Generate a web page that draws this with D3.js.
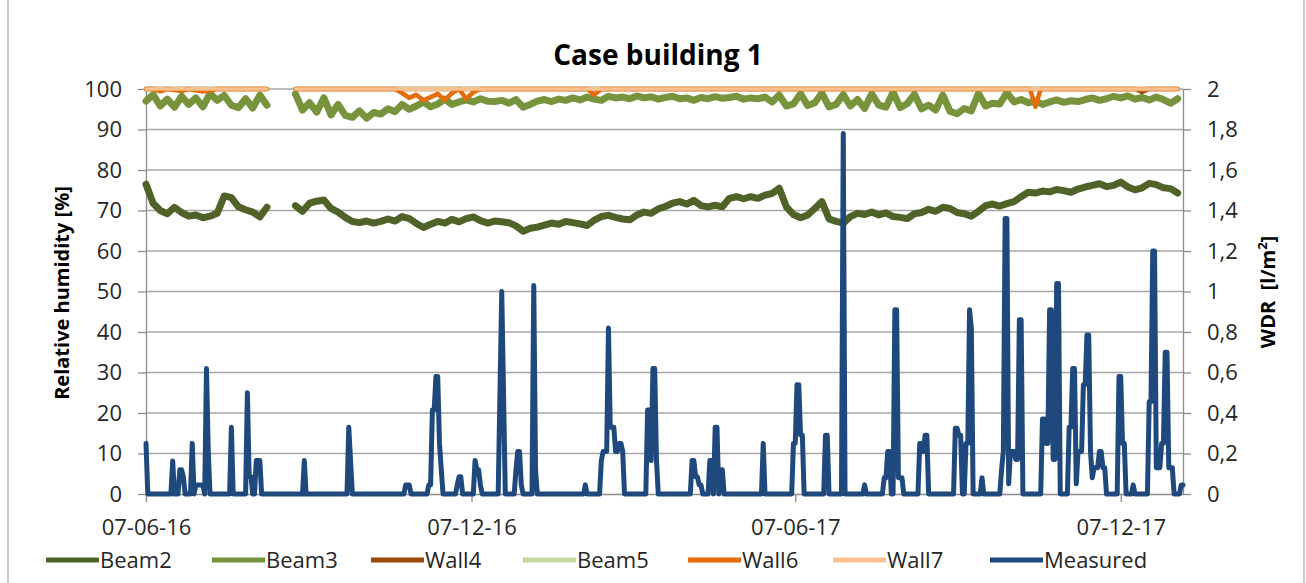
<!DOCTYPE html>
<html>
<head>
    <meta charset="utf-8">
    <title>Case building 1</title>
    <script src="https://cdn.jsdelivr.net/npm/d3@7"></script>
    <style>
        body { margin: 0; background: #fff; }
        text { font-family: "Open Sans", sans-serif; }
    </style>
</head>
<body>
<script type="text/javascript">
    // day 0 = 07-06-16, relative humidity read every 4 days (null = no data)
    var startLabel = '07-06-16';
    var lastDay = 583;
    var rhStep = 4;

    var beam2 = [
        76.5, 71.8, 70.0, 69.2, 70.8, 69.5, 68.6, 68.9, 68.2, 68.6, 69.3, 73.6, 73.2, 70.9, 70.2, 69.6, 68.4, 70.8,
        null, null, null,
        71.2, 69.8, 71.8, 72.3, 72.6, 70.5, 69.6, 68.3, 67.3, 67.0,
        67.4, 66.9, 67.3, 67.9, 67.4, 68.5, 68.0, 66.8, 65.8, 66.6,
        67.3, 66.9, 67.8, 67.2, 68.0, 68.4, 67.5, 66.9, 67.4, 67.2,
        67.0, 66.2, 64.9, 65.6, 65.9, 66.4, 66.9, 66.6, 67.3, 67.0,
        66.7, 66.3, 67.6, 68.5, 68.8, 68.3, 67.9, 67.7, 68.9, 69.6,
        69.3, 70.4, 71.0, 71.8, 72.2, 71.6, 72.5, 71.2, 70.9, 71.3,
        70.9, 73.0, 73.4, 72.9, 73.4, 73.0, 73.8, 74.2, 75.5, 70.9,
        69.0, 68.2, 68.9, 70.5, 72.2, 67.9, 67.3, 66.9, 68.5, 69.3,
        69.0, 69.6, 68.9, 69.4, 68.5, 68.3, 68.0, 69.2, 69.5, 70.3,
        69.8, 70.8, 70.5, 69.5, 69.2, 68.6, 69.8, 71.2, 71.6, 71.1,
        71.7, 72.2, 73.4, 74.5, 74.3, 74.8, 74.6, 75.2, 74.9, 74.5,
        75.3, 75.8, 76.2, 76.6, 75.9, 76.2, 77.0, 75.8, 75.1, 75.6,
        76.7, 76.4, 75.6, 75.4, 74.3
    ];

    var beam3 = [
        97.0, 98.6, 95.8, 97.5, 95.5, 98.2, 96.2, 97.8, 95.6, 98.9, 97.2, 98.4, 96.0, 95.4, 97.6, 95.3, 98.5, 96.0,
        null, null, null,
        98.8, 94.8, 96.6, 94.3, 97.8, 93.6, 96.2, 93.5,
        93.0, 94.6, 92.8, 94.2, 93.8, 95.1, 94.4,
        96.2, 95.0, 95.8, 96.8, 95.6, 96.3, 97.5, 96.2, 96.8,
        97.3, 96.8, 97.6, 97.0, 96.9, 97.2, 96.5, 97.4,
        95.5, 96.2, 97.0, 97.4, 96.9, 97.5, 97.2, 97.8,
        97.3, 98.0, 97.5, 97.2, 98.2, 97.8, 98.0, 97.6, 98.3, 97.8, 98.1, 97.5, 97.9, 98.2, 97.6,
        97.8, 97.2, 97.9, 97.6, 98.1, 97.7, 97.9, 98.2, 97.5, 97.8, 97.6, 98.0,
        96.8, 98.5, 95.8, 96.3, 98.8, 95.9, 96.6, 99.0, 95.6,
        96.2, 98.6, 95.8, 97.4, 95.2, 98.8, 96.0, 95.5, 99.2, 95.4, 96.4, 98.7, 95.1, 96.0,
        94.8, 98.5, 94.5, 93.9, 95.2, 94.6, 98.9, 95.8, 96.5,
        96.3, 99.1, 96.8, 97.4, 96.6, 97.0, 96.2, 96.8, 97.3, 96.7, 97.1,
        96.9, 97.4, 97.8, 97.2, 97.6, 98.2, 97.8, 98.3, 97.5, 97.9, 97.3, 98.0, 97.4, 96.5, 97.6
    ];

    // the sensors that sit at 100 % only need their break points
    var wall4Days   = [0, 68, 72, 84, 556, 560, 564, 580];
    var wall4Values = [100, 100, null, 100, 100, 99.3, 100, 100];

    var beam5Days   = [0, 68, 72, 84, 580];
    var beam5Values = [100, 100, null, 100, 100];

    var wall6Days   = [0, 4, 8, 12, 20, 24, 32, 36, 40, 68, 72, 84, 140, 144, 148, 152, 156, 160, 164, 168,
                       172, 176, 180, 184, 188, 248, 252, 256, 497, 500, 503, 580];
    var wall6Values = [100, 100, 99.4, 100, 99.5, 100, 99.4, 99.6, 100, 100, null, 100, 100, 99.0, 97.8, 98.6, 97.2, 98.0, 98.8, 97.3,
                       99.0, 100, 97.6, 99.2, 100, 100, 98.6, 100, 100, 95.6, 100, 100];

    var wall7Days   = [0, 68, 72, 84, 580];
    var wall7Values = [100, 100, null, 100, 100];

    // measured WDR [l/m2], days with rain only, all other days are 0
    var measuredDays = [
        0, 15, 19, 20, 21, 26, 28, 29, 30, 31, 32, 34, 35, 48, 57, 58, 59, 62, 63, 64,
        89, 114, 115, 146, 147, 148, 159, 160, 161, 162, 163, 164, 165, 166, 175, 176, 177,
        185, 186, 187, 188, 199, 200, 201, 208, 209, 210, 211, 218, 219, 247,
        256, 257, 258, 259, 260, 261, 262, 263, 264, 265, 266, 267, 268,
        282, 283, 284, 285, 286, 287, 307, 308, 309, 310, 311, 312, 317, 318, 320, 321, 323, 324,
        347, 364, 365, 366, 367, 368, 369, 382, 383, 392, 404, 415, 416, 417, 418,
        421, 422, 423, 424, 425, 435, 436, 437, 438, 439, 455, 456, 457, 458, 461, 462, 463, 464, 470,
        481, 482, 483, 484, 485, 486, 487, 488, 489, 490, 491, 492,
        504, 505, 506, 507, 508, 509, 510, 511, 512, 513,
        519, 520, 521, 522, 523, 524, 525, 526, 527, 528, 529, 530, 531, 532, 533, 534, 535, 536, 537, 538, 539,
        547, 548, 549, 550, 555, 564, 565, 566, 567, 568, 569, 570, 571, 572, 573, 574, 575, 576, 577, 582, 583
    ];
    var measuredValues = [
        0.25, 0.163, 0.12, 0.12, 0.085, 0.25, 0.045, 0.045, 0.045, 0.045, 0.045, 0.62, 0.21, 0.33, 0.50, 0.085, 0.085, 0.165, 0.165, 0.165,
        0.165, 0.33, 0.165, 0.045, 0.045, 0.045, 0.045, 0.045, 0.415, 0.415, 0.58, 0.58, 0.25, 0.12, 0.045, 0.085, 0.085,
        0.165, 0.12, 0.12, 0.045, 0.50, 1.00, 0.50, 0.12, 0.21, 0.21, 0.045, 1.03, 0.12, 0.045,
        0.165, 0.21, 0.21, 0.21, 0.82, 0.33, 0.33, 0.33, 0.21, 0.21, 0.25, 0.25, 0.21,
        0.415, 0.415, 0.165, 0.62, 0.62, 0.165, 0.165, 0.165, 0.085, 0.085, 0.045, 0.045, 0.165, 0.165, 0.33, 0.33, 0.12, 0.12,
        0.25, 0.25, 0.25, 0.54, 0.54, 0.29, 0.29, 0.29, 0.29, 1.78, 0.045, 0.08, 0.08, 0.21, 0.21,
        0.91, 0.91, 0.08, 0.08, 0.08, 0.25, 0.25, 0.21, 0.29, 0.29, 0.325, 0.325, 0.29, 0.29, 0.25, 0.25, 0.91, 0.82, 0.08,
        0.12, 0.21, 1.36, 1.36, 0.05, 0.21, 0.21, 0.21, 0.17, 0.17, 0.86, 0.86,
        0.37, 0.37, 0.25, 0.25, 0.91, 0.91, 0.17, 0.17, 1.04, 1.04,
        0.33, 0.33, 0.62, 0.62, 0.05, 0.21, 0.21, 0.21, 0.54, 0.54, 0.785, 0.785, 0.21, 0.08, 0.13, 0.13, 0.13, 0.21, 0.21, 0.13, 0.13,
        0.58, 0.58, 0.25, 0.25, 0.045, 0.455, 0.455, 1.20, 1.20, 0.13, 0.13, 0.13, 0.25, 0.25, 0.70, 0.70, 0.13, 0.13, 0.13, 0.045, 0.045
    ];

    var dateTicks = ['07-06-16', '07-12-16', '07-06-17', '07-12-17'];
    var rhTicks = [0, 10, 20, 30, 40, 50, 60, 70, 80, 90, 100];
    var wdrTicks = [0, 0.2, 0.4, 0.6, 0.8, 1, 1.2, 1.4, 1.6, 1.8, 2];

    var seriesNames  = ['Beam2', 'Beam3', 'Wall4', 'Beam5', 'Wall6', 'Wall7', 'Measured'];
    var seriesColors = ['#4f6228', '#77933c', '#984807', '#c3d69b', '#e46c0a', '#fac090', '#1f497d'];

    var W = 1306, H = 583;
    var plotLeft = 146, plotRight = 1183, plotTop = 89, plotBottom = 494;

    var parseDate = d3.utcParse('%d-%m-%y');
    var start = parseDate(startLabel);
    function dayDate(d) { return d3.utcDay.offset(start, d); }

    var x = d3.scaleUtc()
        .domain([start, dayDate(lastDay)])
        .range([plotLeft, plotRight]);
    var yRh = d3.scaleLinear().domain([0, 100]).range([plotBottom, plotTop]);
    var yWdr = d3.scaleLinear().domain([0, 2]).range([plotBottom, plotTop]);

    var svg = d3.select('body')
      .append('svg')
        .attr('width', W)
        .attr('height', H);

    // chart frame
    svg.append('rect')
        .attr('x', 8).attr('y', -10)
        .attr('width', 1296).attr('height', H + 20)
        .attr('fill', 'none')
        .attr('stroke', '#b8b8b8')
        .attr('stroke-width', 1.5);

    svg.append('text')
        .attr('x', 658).attr('y', 65)
        .attr('text-anchor', 'middle')
        .style('font-size', '28px')
        .style('font-weight', 'bold')
        .text('Case building 1');

    // horizontal gridlines
    svg.append('g')
        .selectAll('line')
        .data(rhTicks.slice(1))
        .enter()
          .append('line')
            .attr('x1', plotLeft).attr('x2', plotRight)
            .attr('y1', function(d) { return yRh(d); })
            .attr('y2', function(d) { return yRh(d); })
            .attr('stroke', '#a6a6a6')
            .attr('stroke-width', 1.3);

    function styleAxis(g) {
      g.select('.domain').attr('stroke', '#8c8c8c').attr('stroke-width', 1.3);
      g.selectAll('.tick line').attr('stroke', '#8c8c8c').attr('stroke-width', 1.3);
      g.selectAll('.tick text')
        .style('font-size', '22px')
        .style('font-family', '"Open Sans", sans-serif')
        .attr('fill', '#262626');
    }

    var xAxis = d3.axisBottom(x)
      .tickValues(dateTicks.map(parseDate))
      .tickFormat(d3.utcFormat('%d-%m-%y'))
      .tickSizeInner(8).tickSizeOuter(0)
      .tickPadding(17);
    svg.append('g')
        .attr('transform', 'translate(0,' + plotBottom + ')')
        .call(xAxis)
        .call(styleAxis);

    var leftAxis = d3.axisLeft(yRh)
      .tickValues(rhTicks)
      .tickSizeInner(8).tickSizeOuter(0)
      .tickPadding(16);
    svg.append('g')
        .attr('transform', 'translate(' + plotLeft + ',0)')
        .call(leftAxis)
        .call(styleAxis);

    var rightAxis = d3.axisRight(yWdr)
      .tickValues(wdrTicks)
      .tickFormat(function(d) { return String(d).replace('.', ','); })
      .tickSizeInner(8).tickSizeOuter(0)
      .tickPadding(16);
    svg.append('g')
        .attr('transform', 'translate(' + plotRight + ',0)')
        .call(rightAxis)
        .call(styleAxis);

    svg.append('text')
        .attr('transform', 'translate(69,293) rotate(-90)')
        .attr('text-anchor', 'middle')
        .style('font-size', '20px')
        .style('font-weight', 'bold')
        .text('Relative humidity [%]');

    var wdrTitle = svg.append('text')
        .attr('transform', 'translate(1275,292) rotate(-90)')
        .attr('text-anchor', 'middle')
        .style('font-size', '20px')
        .style('font-weight', 'bold');
    wdrTitle.append('tspan').text('WDR\u00a0\u00a0[l/m');
    wdrTitle.append('tspan').attr('dy', -8).style('font-size', '13px').text('2');
    wdrTitle.append('tspan').attr('dy', 8).text(']');

    // series as {day, value} points
    function stepSeries(values) {
      return values.map(function(v, i) { return { day: i * rhStep, value: v }; });
    }
    function pairSeries(days, values) {
      return days.map(function(d, i) { return { day: d, value: values[i] }; });
    }

    var rainByDay = {};
    measuredDays.forEach(function(d, i) { rainByDay[d] = measuredValues[i]; });
    var measured = d3.range(0, lastDay + 1).map(function(d) {
      return { day: d, value: rainByDay[d] || 0 };
    });

    var rhSeries = [
      stepSeries(beam2),
      stepSeries(beam3),
      pairSeries(wall4Days, wall4Values),
      pairSeries(beam5Days, beam5Values),
      pairSeries(wall6Days, wall6Values),
      pairSeries(wall7Days, wall7Values)
    ];
    var rhWidths = [7, 7, 4.5, 4.5, 4.5, 3.5];

    var rhLine = d3.line()
      .defined(function(d) { return d.value != null; })
      .x(function(d) { return x(dayDate(d.day)); })
      .y(function(d) { return yRh(d.value); });

    var wdrLine = d3.line()
      .x(function(d) { return x(dayDate(d.day)); })
      .y(function(d) { return yWdr(d.value); });

    svg.append('g')
        .selectAll('path')
        .data(rhSeries)
        .enter()
          .append('path')
            .attr('d', rhLine)
            .attr('fill', 'none')
            .attr('stroke', function(d, i) { return seriesColors[i]; })
            .attr('stroke-width', function(d, i) { return rhWidths[i]; })
            .attr('stroke-linejoin', 'round')
            .attr('stroke-linecap', 'round');

    svg.append('path')
        .datum(measured)
        .attr('d', wdrLine)
        .attr('fill', 'none')
        .attr('stroke', seriesColors[6])
        .attr('stroke-width', 5)
        .attr('stroke-linejoin', 'round')
        .attr('stroke-linecap', 'round');

    // legend
    var legendX = [46, 212, 371, 523, 688, 833, 990];
    var legend = svg.append('g')
        .selectAll('g')
        .data(seriesNames)
        .enter()
          .append('g')
            .attr('transform', function(d, i) { return 'translate(' + legendX[i] + ',560)'; });
    legend.append('line')
        .attr('x1', 0).attr('x2', 53)
        .attr('stroke', function(d, i) { return seriesColors[i]; })
        .attr('stroke-width', 5);
    legend.append('text')
        .attr('x', 54).attr('y', 8)
        .style('font-size', '22px')
        .attr('fill', '#262626')
        .text(function(d) { return d; });
</script>
</body>
</html>
